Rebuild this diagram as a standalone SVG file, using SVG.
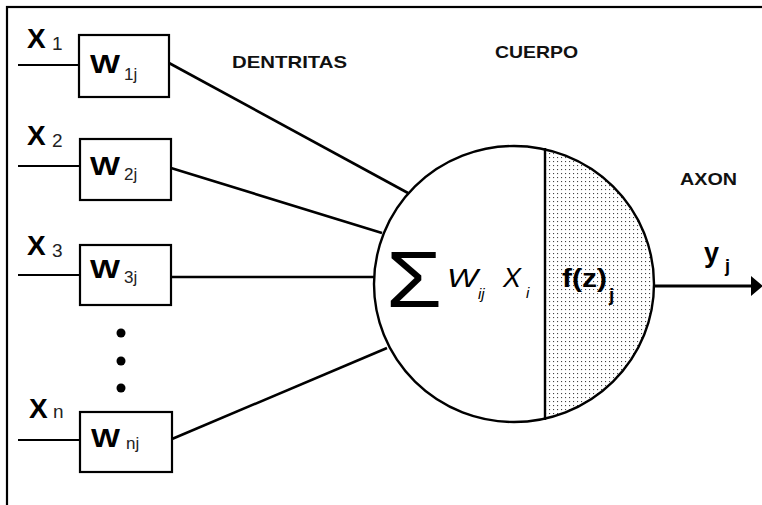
<svg xmlns="http://www.w3.org/2000/svg" width="762" height="505" viewBox="0 0 762 505">
<defs>
<pattern id="dots" width="4" height="4" patternUnits="userSpaceOnUse">
<rect x="1" y="1" width="1.1" height="1.1" fill="#444"/>
</pattern>
<style>
.box{fill:#fff;stroke:#000;stroke-width:2.2}
.ln{stroke:#000;stroke-width:2.2;fill:none}
.con{stroke:#000;stroke-width:2.6;fill:none}
.X{font-family:"Liberation Sans",Arial,sans-serif;font-weight:bold;font-size:28px;fill:#000}
.W{font-family:"Liberation Sans",Arial,sans-serif;font-weight:bold;font-size:25px;fill:#000}
.sub{font-family:"Liberation Sans",Arial,sans-serif;font-size:19px;fill:#222}
.wsub{font-family:"Liberation Sans",Arial,sans-serif;font-size:17px;fill:#222}
.lab{font-family:"Liberation Sans",Arial,sans-serif;font-weight:bold;font-size:17px;fill:#111}
.it{font-family:"Liberation Sans",Arial,sans-serif;font-style:italic;fill:#000}
</style>
</defs>
<rect width="762" height="505" fill="#fff"/>
<rect x="7" y="7" width="800" height="600" fill="none" stroke="#000" stroke-width="2.2"/>

<g id="connectors">
<line class="ln" x1="18" y1="65" x2="80" y2="65"/>
<line class="ln" x1="18" y1="166" x2="80" y2="166"/>
<line class="ln" x1="18" y1="275" x2="80" y2="275"/>
<line class="ln" x1="18" y1="440" x2="80" y2="440"/>
<line class="con" x1="169" y1="63" x2="408" y2="193"/>
<line class="con" x1="171" y1="168" x2="382" y2="233"/>
<line class="con" x1="171" y1="277" x2="374" y2="277"/>
<line class="con" x1="172" y1="439" x2="387" y2="348"/>
<line stroke="#000" stroke-width="3" x1="654" y1="286" x2="752" y2="286"/>
<polygon points="751,276 763,286 751,296" fill="#000"/>
</g>

<g id="input1">
<text class="X" x="27" y="48">X</text><text class="sub" x="52" y="50">1</text>
</g>
<g id="input2">
<text class="X" x="27" y="145">X</text><text class="sub" x="52" y="147">2</text>
</g>
<g id="input3">
<text class="X" x="27" y="255">X</text><text class="sub" x="52" y="257">3</text>
</g>
<g id="inputn">
<text class="X" x="29" y="418">X</text><text class="sub" x="53" y="418">n</text>
</g>

<g id="w1">
<rect class="box" x="79" y="35" width="90" height="62"/>
<text class="W" x="90" y="73" textLength="30" lengthAdjust="spacingAndGlyphs">W</text>
<text class="wsub" x="124" y="80">1j</text>
</g>
<g id="w2">
<rect class="box" x="80" y="139" width="91" height="61"/>
<text class="W" x="90" y="175" textLength="30" lengthAdjust="spacingAndGlyphs">W</text>
<text class="wsub" x="124" y="180">2j</text>
</g>
<g id="w3">
<rect class="box" x="80" y="245" width="91" height="60"/>
<text class="W" x="90" y="278" textLength="30" lengthAdjust="spacingAndGlyphs">W</text>
<text class="wsub" x="124" y="283">3j</text>
</g>
<g id="dots-ellipsis">
<circle cx="121" cy="333" r="4.5" fill="#000"/>
<circle cx="121" cy="361" r="4.5" fill="#000"/>
<circle cx="121" cy="388" r="4.5" fill="#000"/>
</g>
<g id="wn">
<rect class="box" x="80" y="412" width="92" height="60"/>
<text class="W" x="91" y="447" textLength="29" lengthAdjust="spacingAndGlyphs">W</text>
<text class="wsub" x="126" y="449">nj</text>
</g>

<g id="neuron">
<ellipse cx="514" cy="284" rx="140" ry="138" fill="#fff"/>
<path d="M545,149.4 A140,138 0 0 1 545,418.6 Z" fill="url(#dots)"/>
<ellipse cx="514" cy="284" rx="140" ry="138" fill="none" stroke="#000" stroke-width="2.4"/>
<line x1="545" y1="148" x2="545" y2="420" stroke="#000" stroke-width="2.4"/>
<text x="386" y="307" font-family="'Liberation Sans',Arial,sans-serif" font-size="80" textLength="56" lengthAdjust="spacingAndGlyphs">Σ</text>
<text class="it" x="447" y="287" font-size="25" textLength="31" lengthAdjust="spacingAndGlyphs">W</text>
<text class="it" x="478" y="299" font-size="15">ij</text>
<text class="it" x="503" y="287" font-size="27">X</text>
<text class="it" x="526" y="298" font-size="15">i</text>
<text x="562" y="287" font-family="'Liberation Sans',Arial,sans-serif" font-weight="bold" font-size="26" textLength="45" lengthAdjust="spacingAndGlyphs">f(z)</text>
<text x="609" y="301" font-family="'Liberation Sans',Arial,sans-serif" font-weight="bold" font-size="19">j</text>
</g>

<g id="labels">
<text class="lab" x="232" y="68" textLength="115" lengthAdjust="spacingAndGlyphs">DENTRITAS</text>
<text class="lab" x="495" y="58" textLength="83" lengthAdjust="spacingAndGlyphs">CUERPO</text>
<text class="lab" x="680" y="185" textLength="57" lengthAdjust="spacingAndGlyphs">AXON</text>
</g>
<g id="output">
<text x="704" y="262" font-family="'Liberation Sans',Arial,sans-serif" font-weight="bold" font-size="27">y</text>
<text x="725" y="272" font-family="'Liberation Sans',Arial,sans-serif" font-weight="bold" font-size="18">j</text>
</g>
</svg>
